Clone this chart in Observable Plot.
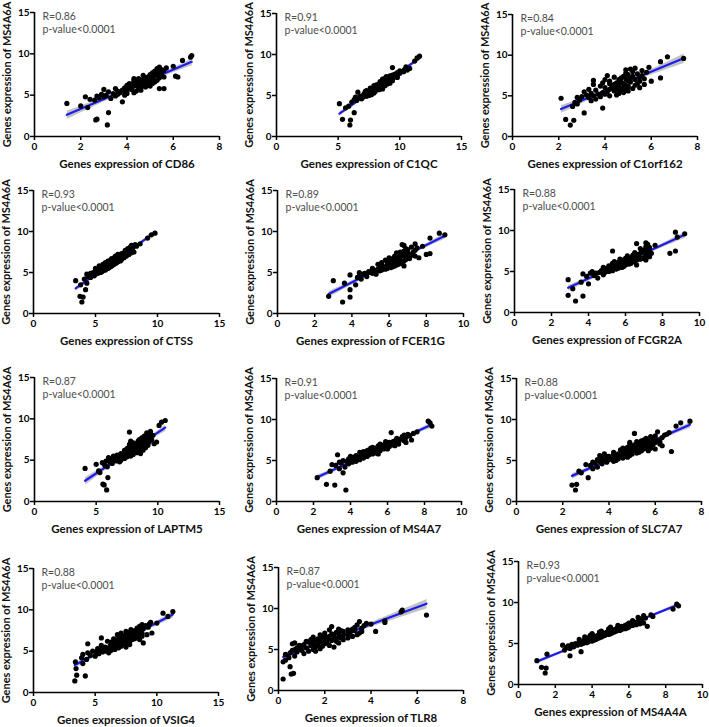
<!DOCTYPE html>
<html><head><meta charset="utf-8">
<script src="https://cdn.jsdelivr.net/npm/d3@7"></script>
<script src="https://cdn.jsdelivr.net/npm/@observablehq/plot@0.6"></script>
<style>
body{margin:0;background:#fff;}
#fig{position:relative;width:709px;height:727px;overflow:hidden;background:#fff;}
#fig svg{position:absolute;}
</style></head><body><div id="fig"></div>
<script>
// MS4A6A expression (shared y for all panels, same samples)
const MS4A6A = [1.4,2.0,2.1,2.9,3.5,3.7,4.0,4.2,4.4,4.5,
4.6,4.7,4.8,4.9,4.9,5.0,5.0,5.1,5.1,5.2,
5.2,5.3,5.3,5.4,5.4,5.5,5.5,5.6,5.6,5.7,
5.7,5.8,5.8,5.9,5.9,6.0,6.0,6.1,6.1,6.2,
6.2,6.3,6.3,6.4,6.4,6.5,6.5,6.6,6.6,6.7,
6.7,6.8,6.8,6.9,6.9,7.0,7.0,7.1,7.1,7.2,
7.2,7.3,7.3,7.4,7.4,7.5,7.5,7.6,7.7,7.8,
7.9,8.0,8.1,8.2,8.3,8.4,8.5,9.2,9.6,9.8,
6.0,6.5,5.5,7.0,6.2,6.8,5.8,7.2,6.4,4.8];

const CD86 = [3.15,2.65,2.7,3.2,2.3,2.0,1.4,3.8,2.6,2.4,
3.3,2.8,3.0,2.7,3.5,3.1,3.9,2.9,3.6,3.4,
4.0,3.7,4.3,3.2,3.9,3.6,4.4,3.8,4.6,3.0,
4.2,5.4,5.6,3.9,4.5,4.1,4.8,4.3,5.0,4.4,
4.9,4.2,4.7,4.5,5.1,4.6,4.3,4.8,5.2,4.4,
4.9,4.6,5.3,4.7,5.0,4.5,5.1,4.8,5.4,4.9,
6.2,5.0,6.1,5.2,4.7,5.3,5.0,5.5,5.1,5.4,
5.2,5.6,5.5,5.3,5.7,5.4,6.0,6.4,6.75,6.8,
4.6,5.0,4.0,4.3,4.0,4.3,3.5,5.6,4.1,2.2];

const C1QC = [5.95,6.0,5.35,6.3,5.6,5.85,5.1,6.1,6.5,6.3,
6.9,6.6,7.0,6.8,7.3,7.0,7.5,7.2,7.7,7.1,
7.6,7.4,7.9,6.6,7.7,7.5,8.0,7.8,7.3,7.7,
8.3,7.9,8.4,8.0,7.6,8.2,8.6,8.0,8.5,8.3,
8.8,8.5,8.1,8.7,8.3,8.9,8.5,8.6,9.1,8.4,
8.9,9.0,8.6,9.2,8.8,9.0,9.4,8.8,9.3,9.5,
9.1,9.3,8.9,9.6,9.2,9.8,9.4,9.6,10.0,9.8,
10.3,10.0,10.6,10.4,10.8,9.4,10.5,11.2,11.4,11.6,
7.9,9.2,7.2,8.6,7.9,9.4,8.6,9.8,9.0,6.4];

const C1orf162 = [2.5,2.65,2.3,3.1,3.9,2.6,2.8,2.7,3.4,2.9,
3.6,2.1,3.3,3.0,3.8,3.5,4.2,3.2,4.5,3.7,
4.0,3.4,4.6,3.9,4.8,4.1,3.1,4.4,5.0,3.6,
4.7,4.2,3.3,4.5,5.2,4.0,4.8,4.3,5.0,4.6,
3.8,4.9,5.3,4.4,3.5,4.8,5.4,4.5,3.9,5.1,
4.7,5.5,4.2,3.5,5.0,4.6,5.3,4.9,5.7,4.7,
5.1,4.4,5.5,4.8,5.2,4.1,5.6,5.0,5.4,4.9,
5.8,5.2,5.6,4.9,5.1,5.3,5.9,6.4,7.4,6.7,
5.5,4.2,4.6,4.0,5.0,6.0,4.9,6.4,5.7,2.8];

const CTSS = [3.9,4.0,3.75,4.2,3.8,4.3,3.4,4.1,4.6,4.4,
4.9,4.5,5.0,4.6,5.2,4.8,5.4,5.0,5.5,5.1,
5.6,5.3,5.8,5.2,5.7,5.4,6.0,5.6,6.1,5.5,
6.2,5.8,6.3,5.9,6.4,6.0,6.5,6.1,6.6,6.2,
6.7,6.3,6.8,6.4,6.0,6.6,7.0,6.5,7.1,6.8,
6.3,6.9,7.3,6.7,7.2,7.0,7.5,6.9,7.4,7.2,
7.7,7.1,7.6,7.3,7.9,7.5,8.1,7.7,7.4,7.9,
7.6,8.0,7.8,8.3,7.9,8.2,8.6,9.2,9.5,9.8,
5.6,6.2,5.0,6.6,5.8,6.5,5.3,6.8,7.0,4.3];

const FCER1G = [3.5,3.9,2.75,3.9,4.2,3.6,3.0,4.5,4.3,4.8,
4.4,3.9,4.6,5.1,4.7,5.0,4.4,5.3,4.9,5.5,
5.1,5.6,5.2,5.8,5.4,5.9,5.5,6.1,5.7,6.2,
5.8,6.3,5.6,6.0,6.4,5.9,6.5,6.1,6.6,6.0,
6.4,6.2,6.7,6.3,6.8,6.1,6.6,6.4,6.9,6.2,
7.1,6.5,7.6,6.6,7.0,6.3,6.8,6.7,7.2,6.5,
8.0,6.9,8.2,6.4,7.0,6.6,7.3,6.8,7.4,7.0,
6.9,7.5,7.2,7.8,6.8,6.7,7.4,8.2,9.0,8.7,
5.4,5.8,5.1,7.4,5.6,6.0,6.8,7.0,5.9,5.3];

const FCGR2A = [3.3,3.7,2.9,3.15,4.0,3.6,2.9,4.5,3.9,4.3,
4.8,3.7,4.4,4.9,4.6,4.2,5.1,4.7,5.3,4.9,
5.0,5.2,5.5,5.0,5.6,5.3,5.8,5.4,5.9,5.1,
5.6,5.5,6.0,5.7,6.2,5.8,6.3,5.6,6.1,5.9,
6.4,6.0,6.5,5.8,6.6,6.2,6.8,6.0,6.9,6.3,
7.0,6.5,7.2,6.1,6.7,6.4,7.3,6.6,7.1,6.8,
8.4,6.5,7.2,6.9,7.3,5.3,8.7,7.0,7.2,6.8,
7.3,7.1,7.2,7.6,7.2,6.6,7.1,8.8,9.2,8.7,
5.3,5.7,4.8,7.2,5.4,7.3,6.6,7.4,7.1,4.1];

const LAPTM5 = [5.85,5.65,5.55,5.95,5.3,5.2,4.1,5.9,5.7,5.0,
6.3,5.5,6.1,6.6,5.8,6.4,7.0,6.2,6.8,7.3,
6.6,7.1,6.0,7.5,6.9,7.3,7.8,6.7,7.6,7.2,
8.0,7.5,7.0,7.9,8.3,7.4,8.1,7.8,8.5,8.0,
7.3,8.2,7.7,8.4,8.0,7.6,8.6,8.2,7.9,8.5,
8.8,8.1,8.4,8.7,7.7,8.3,9.0,8.6,8.0,8.9,
9.3,8.4,7.8,8.8,9.2,8.5,9.5,9.0,8.7,9.3,
8.9,9.6,9.2,9.4,9.1,7.7,9.4,10.1,10.3,10.6,
8.6,9.0,6.4,9.7,8.8,9.2,8.6,9.9,7.5,6.9];

const MS4A7 = [3.75,3.15,2.7,2.2,3.6,2.9,3.4,3.7,3.2,3.0,
3.9,3.5,4.1,3.8,4.3,3.6,4.2,4.0,4.5,4.3,
3.9,4.4,4.7,4.2,4.6,4.5,4.9,4.3,4.8,3.3,
5.0,4.6,5.2,4.8,5.4,4.9,5.3,5.1,4.7,5.2,
5.6,5.0,5.5,5.3,5.8,5.4,5.9,5.6,5.2,5.7,
6.1,5.5,6.0,5.8,6.3,5.6,6.2,5.9,6.5,6.1,
6.6,6.3,5.9,6.4,6.9,7.3,6.6,6.7,6.5,7.0,
6.8,7.2,6.9,7.1,7.4,6.2,7.6,8.4,8.3,8.2,
4.5,5.1,4.0,6.6,4.9,6.4,5.5,7.0,6.0,3.4];

const SLC7A7 = [2.55,2.4,2.6,3.1,2.8,2.7,3.3,3.5,3.2,3.0,
3.7,3.4,3.9,3.6,4.2,3.8,4.3,4.0,3.5,4.4,
4.1,4.6,3.7,4.3,4.8,4.5,4.0,4.9,3.6,4.7,
4.2,5.0,4.4,4.8,5.2,4.6,5.3,5.0,6.7,4.7,
5.4,5.1,4.5,5.5,4.9,5.2,5.8,4.8,5.6,5.3,
5.0,5.7,5.4,5.1,5.9,5.5,4.9,5.8,5.3,6.0,
5.6,5.2,6.2,5.7,5.4,6.1,5.5,5.9,5.6,6.3,
5.8,6.0,6.4,6.5,5.1,6.6,6.1,6.9,7.1,7.5,
4.2,4.6,3.9,6.2,5.7,6.3,3.8,4.9,6.0,3.3];

const VSIG4 = [3.35,4.2,3.5,3.45,4.0,3.4,4.3,3.9,5.0,4.6,
4.0,5.3,4.4,5.6,5.1,4.8,5.9,5.4,6.3,5.7,
6.6,6.0,5.2,6.4,6.9,5.8,6.7,7.1,6.2,6.8,
5.5,7.3,6.5,7.0,4.4,6.9,7.6,6.3,7.4,7.1,
7.8,6.6,7.3,8.0,6.8,7.5,8.2,7.0,5.5,7.7,
8.4,7.2,7.9,8.6,7.4,8.1,9.2,7.6,8.3,7.1,
8.8,7.8,8.5,8.0,7.5,8.7,8.2,7.9,8.9,8.4,
9.3,8.6,9.1,8.8,9.4,10.0,9.5,10.9,10.5,11.3,
8.9,6.5,7.5,6.8,6.0,8.8,7.8,9.6,8.6,6.1];

const TLR8 = [0.2,0.55,0.65,0.5,0.2,0.3,0.45,0.7,0.3,1.1,
0.5,0.8,1.3,0.6,1.0,0.7,1.5,0.9,1.8,1.2,
0.8,1.6,2.4,1.0,1.9,1.4,2.2,1.1,1.7,0.6,
2.0,1.5,2.6,1.3,2.1,1.8,2.5,1.6,2.3,2.0,
2.8,1.7,2.4,2.1,3.0,1.9,2.6,2.2,3.2,2.0,
2.8,2.4,3.4,2.3,3.0,2.6,3.5,2.5,3.1,2.8,
4.2,2.7,3.3,3.0,2.2,3.2,2.6,3.6,3.3,2.3,
3.7,3.4,4.0,3.8,4.6,3.5,4.6,6.4,5.3,5.35,
1.2,1.5,0.9,2.0,1.4,1.8,0.7,3.6,2.7,1.6];

const MS4A4A = [1.45,1.5,1.25,1.0,2.8,1.55,3.4,2.5,2.8,2.6,
3.0,2.7,3.2,2.9,3.4,3.1,3.5,3.3,3.7,3.4,
3.8,3.5,4.0,3.6,4.1,3.7,4.2,3.9,4.3,3.8,
4.4,4.0,4.5,4.1,4.6,4.3,4.7,4.4,4.9,4.5,
5.0,4.6,5.1,4.8,5.2,4.9,5.3,5.0,5.5,5.1,
5.6,5.3,5.8,5.4,5.9,5.5,6.0,5.6,7.0,5.8,
6.2,5.9,6.4,6.1,6.6,6.0,6.8,6.3,6.5,6.2,
6.7,6.6,6.9,6.5,7.3,6.8,7.2,8.4,8.7,8.6,
3.9,4.5,3.3,5.0,4.0,4.9,3.6,5.4,4.4,2.4];

const genes = ["CD86","C1QC","C1orf162","CTSS","FCER1G","FCGR2A","LAPTM5","MS4A7","SLC7A7","VSIG4","TLR8","MS4A4A"];
const xSeries = [CD86,C1QC,C1orf162,CTSS,FCER1G,FCGR2A,LAPTM5,MS4A7,SLC7A7,VSIG4,TLR8,MS4A4A];
const rValues = ["0.86","0.91","0.84","0.93","0.89","0.88","0.87","0.91","0.88","0.88","0.87","0.93"];
const xTickSets = [[0,2,4,6,8],[0,5,10,15],[0,2,4,6,8],[0,5,10,15],[0,2,4,6,8,10],[0,2,4,6,8,10],
  [0,5,10,15],[0,2,4,6,8,10],[0,2,4,6,8],[0,5,10,15],[0,2,4,6,8],[0,2,4,6,8,10]];
const yTicks = [0,5,10,15];
const yLabel = "Genes expression of MS4A6A";
const xLabelPrefix = "Genes expression of ";
const pText = "p-value<0.0001";

// layout: [x pixel of 0, x pixel of max, y pixel of 15, y pixel of 0]
const frames = [
 [34,219,12,136],[276,461,13,136],[512,697,14,136],
 [33,219,190,313],[277,463,190,313],[514,699,189,312],
 [34,219,377,501],[276,461,378,501],[516,701,378,501],
 [33,218,568,692],[278,463,567,690],[518,702,561,684]];

const mL = 40, mR = 14, mT = 16, mB = 44;
const fig = document.getElementById("fig");
genes.forEach((g, i) => {
  const [x0, x1, yT, y0] = frames[i];
  const data = MS4A6A.map((y, j) => ({x: xSeries[i][j], y}));
  const xt = xTickSets[i];
  const svg = Plot.plot({
    width: (x1 - x0) + mL + mR,
    height: (y0 - yT) + mT + mB,
    marginLeft: mL, marginRight: mR, marginTop: mT, marginBottom: mB,
    style: {background: "transparent", overflow: "visible", fontFamily: "Lato, 'Liberation Sans', sans-serif"},
    x: {domain: [0, xt[xt.length - 1]]},
    y: {domain: [0, 15]},
    marks: [
      Plot.linearRegressionY(data, {x: "x", y: "y", stroke: "#1c1cf0", strokeWidth: 2.2, fill: "#7a7a7a", fillOpacity: 0.45}),
      Plot.dot(data, {x: "x", y: "y", r: 2.6, fill: "#000", stroke: "none"}),
      Plot.ruleX([0], {stroke: "#000", strokeWidth: 1.6}),
      Plot.ruleY([0], {stroke: "#000", strokeWidth: 1.6}),
      Plot.axisX({ticks: xt, tickSize: 4, tickPadding: 2, strokeWidth: 1.5, label: null, fontSize: 10, fontWeight: "bold", fill: "#000", tickFormat: d => d}),
      Plot.axisY({ticks: yTicks, tickSize: 4, tickPadding: 1, strokeWidth: 1.5, label: null, fontSize: 10, fontWeight: "bold", fill: "#000", tickFormat: d => d}),
      Plot.text([xLabelPrefix + g], {frameAnchor: "bottom", dy: 28, textAnchor: "middle", lineAnchor: "middle", fontSize: 11.5, fontWeight: "bold", fill: "#111"}),
      Plot.text([yLabel], {frameAnchor: "left", dx: -27, rotate: -90, textAnchor: "middle", lineAnchor: "middle", fontSize: 11, fontWeight: "bold", fill: "#111"}),
      Plot.text([`R=${rValues[i]}\n${pText}`], {frameAnchor: "top-left", dx: 8, dy: -2, lineAnchor: "top", textAnchor: "start", lineHeight: 1.25, fontSize: 10.5, fill: "#4d4d4d"})
    ]
  });
  svg.style.left = (x0 - mL) + "px";
  svg.style.top = (yT - mT) + "px";
  fig.appendChild(svg);
});
</script></body></html>
